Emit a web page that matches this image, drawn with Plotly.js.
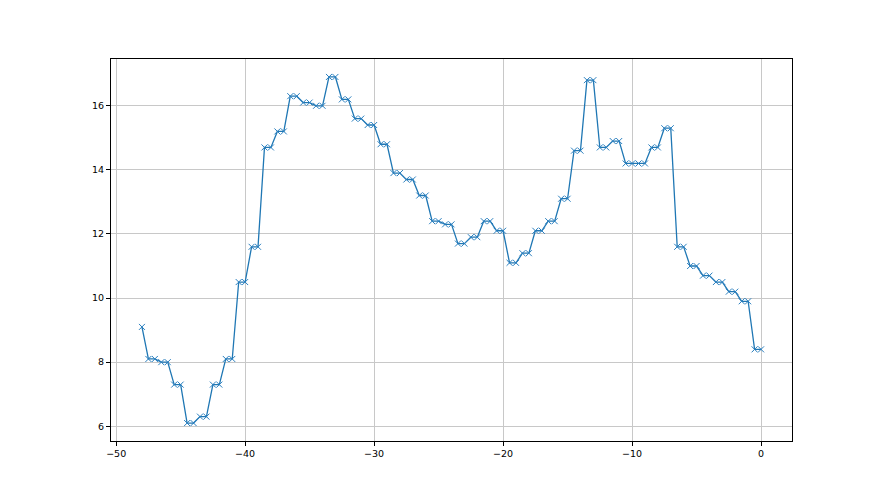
<!DOCTYPE html>
<html>
<head>
<meta charset="utf-8">
<script src="https://cdn.plot.ly/plotly-3.0.1.min.js"></script>
<style>html,body{margin:0;padding:0;background:#fff;}#chart{width:880px;height:495px;}</style>
</head>
<body>
<div id="chart"></div>
<script>
// x positions: -48 to 0 in steps of 0.5
const xValues = [-48,-47.5,-47,-46.5,-46,-45.5,-45,-44.5,-44,-43.5,-43,-42.5,-42,-41.5,-41,-40.5,-40,-39.5,-39,-38.5,-38,-37.5,-37,-36.5,-36,-35.5,-35,-34.5,-34,-33.5,-33,-32.5,-32,-31.5,-31,-30.5,-30,-29.5,-29,-28.5,-28,-27.5,-27,-26.5,-26,-25.5,-25,-24.5,-24,-23.5,-23,-22.5,-22,-21.5,-21,-20.5,-20,-19.5,-19,-18.5,-18,-17.5,-17,-16.5,-16,-15.5,-15,-14.5,-14,-13.5,-13,-12.5,-12,-11.5,-11,-10.5,-10,-9.5,-9,-8.5,-8,-7.5,-7,-6.5,-6,-5.5,-5,-4.5,-4,-3.5,-3,-2.5,-2,-1.5,-1,-0.5,0];
const yValues = [9.1,
  8.1,8.1, 8.0,8.0, 7.3,7.3, 6.1,6.1, 6.3,6.3, 7.3,7.3, 8.1,8.1,
  10.5,10.5, 11.6,11.6, 14.7,14.7, 15.2,15.2, 16.3,16.3, 16.1,16.1, 16.0,16.0, 16.9,16.9,
  16.2,16.2, 15.6,15.6, 15.4,15.4, 14.8,14.8, 13.9,13.9, 13.7,13.7, 13.2,13.2,
  12.4,12.4, 12.3,12.3, 11.7,11.7, 11.9,11.9, 12.4,12.4, 12.1,12.1, 11.1,11.1,
  11.4,11.4, 12.1,12.1, 12.4,12.4, 13.1,13.1, 14.6,14.6, 16.8,16.8, 14.7,14.7,
  14.9,14.9, 14.2,14.2, 14.2,14.2, 14.7,14.7, 15.3,15.3, 11.6,11.6, 11.0,11.0,
  10.7,10.7, 10.5,10.5, 10.2,10.2, 9.9,9.9, 8.4,8.4];
const xTicks = [-50,-40,-30,-20,-10,0];
const yTicks = [6,8,10,12,14,16];

const trace = {
  x: xValues, y: yValues, type: 'scatter', mode: 'lines+markers',
  line: {color: '#1f77b4', width: 1.3},
  marker: {symbol: 'x-thin', size: 6, color: '#1f77b4', line: {color: '#2a7fbf', width: 1}},
  hoverinfo: 'skip'
};
const axisCommon = {
  showgrid: true, gridcolor: '#c8c8c8', gridwidth: 1,
  zeroline: false, showline: true, linecolor: '#000', linewidth: 1, mirror: true,
  ticks: 'outside', ticklen: 4, tickwidth: 1, tickcolor: '#000',
  tickfont: {family: 'DejaVu Sans', size: 9.5, color: '#000'}
};
const layout = {
  width: 880, height: 495,
  margin: {l: 111, r: 88, t: 59, b: 54},
  paper_bgcolor: '#fff', plot_bgcolor: '#fff',
  showlegend: false,
  xaxis: Object.assign({}, axisCommon, {range: [-50.4, 2.4], tickvals: xTicks, ticktext: xTicks.map(v => v < 0 ? '\u2212' + Math.abs(v) : String(v))}),
  yaxis: Object.assign({}, axisCommon, {range: [5.54, 17.46], tickvals: yTicks})
};
Plotly.newPlot('chart', [trace], layout, {staticPlot: true});
</script>
</body>
</html>
